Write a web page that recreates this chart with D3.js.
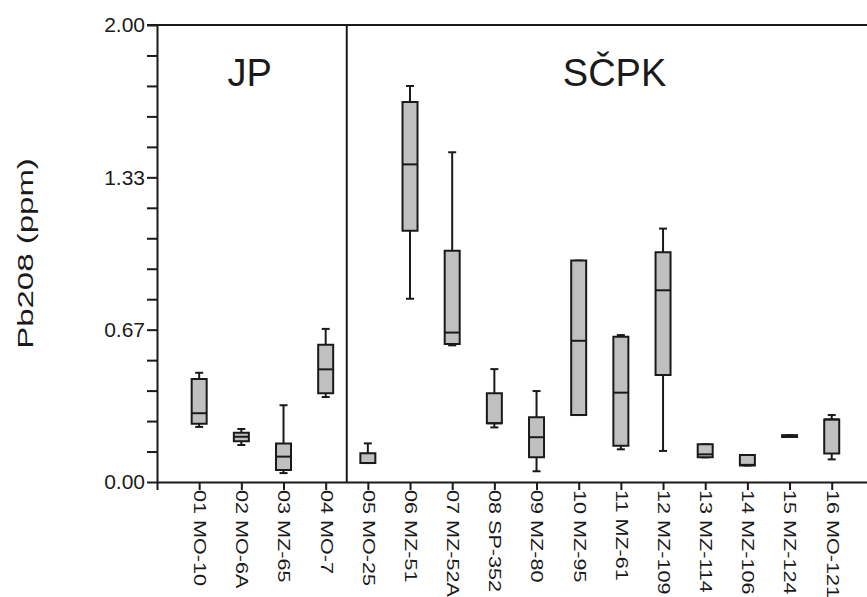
<!DOCTYPE html>
<html>
<head>
<meta charset="utf-8">
<script src="https://cdn.jsdelivr.net/npm/d3@7/dist/d3.min.js"></script>
<style>
  html, body { margin: 0; padding: 0; background: #fff; }
  svg { display: block; }
  text { font-family: "Liberation Sans", Arial, sans-serif; fill: #1a1a1a; }
</style>
</head>
<body>
<svg id="chart" width="867" height="597"></svg>
<script>
// Sample identifiers along the x axis
const samples = [
  "01 MO-10", "02 MO-6A", "03 MZ-65", "04 MO-7",
  "05 MO-25", "06 MZ-51", "07 MZ-52A", "08 SP-352",
  "09 MZ-80", "10 MZ-95", "11 MZ-61", "12 MZ-109",
  "13 MZ-114", "14 MZ-106", "15 MZ-124", "16 MO-121"
];

// Box-plot statistics of Pb208 (ppm) for each sample
const whiskerLow  = [0.241, 0.162, 0.039, 0.372, 0.083, 0.802, 0.598, 0.239, 0.047, 0.293, 0.143, 0.136, 0.108, 0.072, 0.197, 0.099];
const quartile1   = [0.255, 0.178, 0.053, 0.388, 0.083, 1.100, 0.604, 0.257, 0.108, 0.293, 0.159, 0.468, 0.108, 0.072, 0.197, 0.125];
const medians     = [0.301, 0.198, 0.111, 0.493, 0.083, 1.390, 0.654, 0.257, 0.196, 0.618, 0.391, 0.839, 0.121, 0.075, 0.201, 0.274];
const quartile3   = [0.451, 0.216, 0.169, 0.601, 0.126, 1.663, 1.012, 0.388, 0.283, 0.969, 0.636, 1.005, 0.165, 0.118, 0.205, 0.274];
const whiskerHigh = [0.478, 0.232, 0.336, 0.670, 0.169, 1.733, 1.443, 0.494, 0.398, 0.969, 0.643, 1.109, 0.165, 0.118, 0.205, 0.293];

// Sample groups: name and number of samples in each
const groupNames = ["JP", "SČPK"];
const groupSizes = [4, 12];

// Y axis
const yTickLabels = ["0.00", "0.67", "1.33", "2.00"];
const yMax = 2.0;
const minorPerMajor = 5;
const yTitle = "Pb208 (ppm)";

// ---- layout ----
const svg = d3.select("#chart");
const plotLeft = 157, plotTop = 25, plotBottom = 482, step = 42.17;
const nSlots = samples.length + 1;

const x = d3.scaleLinear().domain([0, nSlots]).range([plotLeft, plotLeft + nSlots * step]);
const y = d3.scaleLinear().domain([0, yMax]).range([plotBottom, plotTop]);

const ink = "#1a1a1a";
const boxFill = "#c0c0c0";
const boxW = 15, capW = 8;

// frame: top line, right edge and group divider
svg.append("line")
  .attr("x1", x(0) - 10).attr("x2", x(nSlots))
  .attr("y1", y(yMax)).attr("y2", y(yMax))
  .attr("stroke", ink).attr("stroke-width", 2);
svg.append("line")
  .attr("x1", x(nSlots)).attr("x2", x(nSlots))
  .attr("y1", y(yMax)).attr("y2", y(0))
  .attr("stroke", ink).attr("stroke-width", 2);

const dividerAt = groupSizes[0] + 0.5;
svg.append("line")
  .attr("x1", x(dividerAt)).attr("x2", x(dividerAt))
  .attr("y1", y(yMax)).attr("y2", y(0))
  .attr("stroke", ink).attr("stroke-width", 2);

// y axis with minor ticks
const nMinor = (yTickLabels.length - 1) * minorPerMajor;
const yAxis = d3.axisLeft(y)
  .tickValues(d3.range(nMinor + 1).map(i => i * yMax / nMinor))
  .tickSize(10).tickSizeOuter(0).tickPadding(2)
  .tickFormat((d, i) => i % minorPerMajor === 0 ? yTickLabels[i / minorPerMajor] : "");
const gy = svg.append("g").attr("transform", `translate(${plotLeft},0)`).call(yAxis);
gy.select(".domain").attr("stroke", ink).attr("stroke-width", 2);
gy.selectAll(".tick line").attr("stroke", ink).attr("stroke-width", 2);
gy.selectAll(".tick text")
  .style("font-family", "'Liberation Sans', Arial, sans-serif")
  .style("font-size", "21px").attr("fill", "#333");

// x axis
const xAxis = d3.axisBottom(x)
  .tickValues(d3.range(0, samples.length + 1))
  .tickSize(8).tickSizeOuter(0)
  .tickFormat(d => d === 0 ? "" : samples[d - 1]);
const gx = svg.append("g").attr("transform", `translate(0,${plotBottom})`).call(xAxis);
gx.select(".domain").attr("stroke", ink).attr("stroke-width", 2);
gx.selectAll(".tick line").attr("stroke", ink).attr("stroke-width", 2);
gx.selectAll(".tick text")
  .style("font-family", "'Liberation Sans', Arial, sans-serif")
  .style("font-size", "16px").attr("fill", "#333")
  .attr("text-anchor", "start")
  .attr("y", 0).attr("dy", "0.35em")
  .attr("transform", "translate(0,8) rotate(90) scale(1.35,1)")
  .attr("x", 0);

// y axis title
svg.append("text")
  .attr("transform", `translate(33,${(y(0) + y(yMax)) / 2}) rotate(-90) scale(1.5,1)`)
  .attr("text-anchor", "middle")
  .style("font-size", "22px").attr("fill", "#333")
  .text(yTitle);

// group labels
const groupCenters = [2.2, 10.85];
svg.selectAll("text.group").data(groupNames).join("text")
  .attr("class", "group")
  .attr("x", (d, i) => x(groupCenters[i]))
  .attr("y", 86)
  .attr("text-anchor", "middle")
  .style("font-size", "38px")
  .text(d => d);

// box plots
const boxes = samples.map((s, i) => ({
  pos: i + 1, lo: whiskerLow[i], q1: quartile1[i], med: medians[i], q3: quartile3[i], hi: whiskerHigh[i]
}));

const g = svg.append("g").attr("stroke", ink).attr("stroke-width", 2);
const b = g.selectAll("g.box").data(boxes).join("g").attr("class", "box");

// whiskers
b.append("line")
  .attr("x1", d => x(d.pos)).attr("x2", d => x(d.pos))
  .attr("y1", d => y(d.hi)).attr("y2", d => y(d.q3));
b.append("line")
  .attr("x1", d => x(d.pos)).attr("x2", d => x(d.pos))
  .attr("y1", d => y(d.q1)).attr("y2", d => y(d.lo));
b.append("line")
  .attr("x1", d => x(d.pos) - capW / 2).attr("x2", d => x(d.pos) + capW / 2)
  .attr("y1", d => y(d.hi)).attr("y2", d => y(d.hi));
b.append("line")
  .attr("x1", d => x(d.pos) - capW / 2).attr("x2", d => x(d.pos) + capW / 2)
  .attr("y1", d => y(d.lo)).attr("y2", d => y(d.lo));

// interquartile box
b.append("path")
  .attr("fill", boxFill)
  .attr("d", d => {
    const x0 = x(d.pos) - boxW / 2, x1 = x(d.pos) + boxW / 2;
    return `M${x0},${y(d.q3)}H${x1}V${y(d.q1)}H${x0}Z`;
  });

// median
b.append("line")
  .attr("x1", d => x(d.pos) - boxW / 2).attr("x2", d => x(d.pos) + boxW / 2)
  .attr("y1", d => y(d.med)).attr("y2", d => y(d.med));
</script>
</body>
</html>
